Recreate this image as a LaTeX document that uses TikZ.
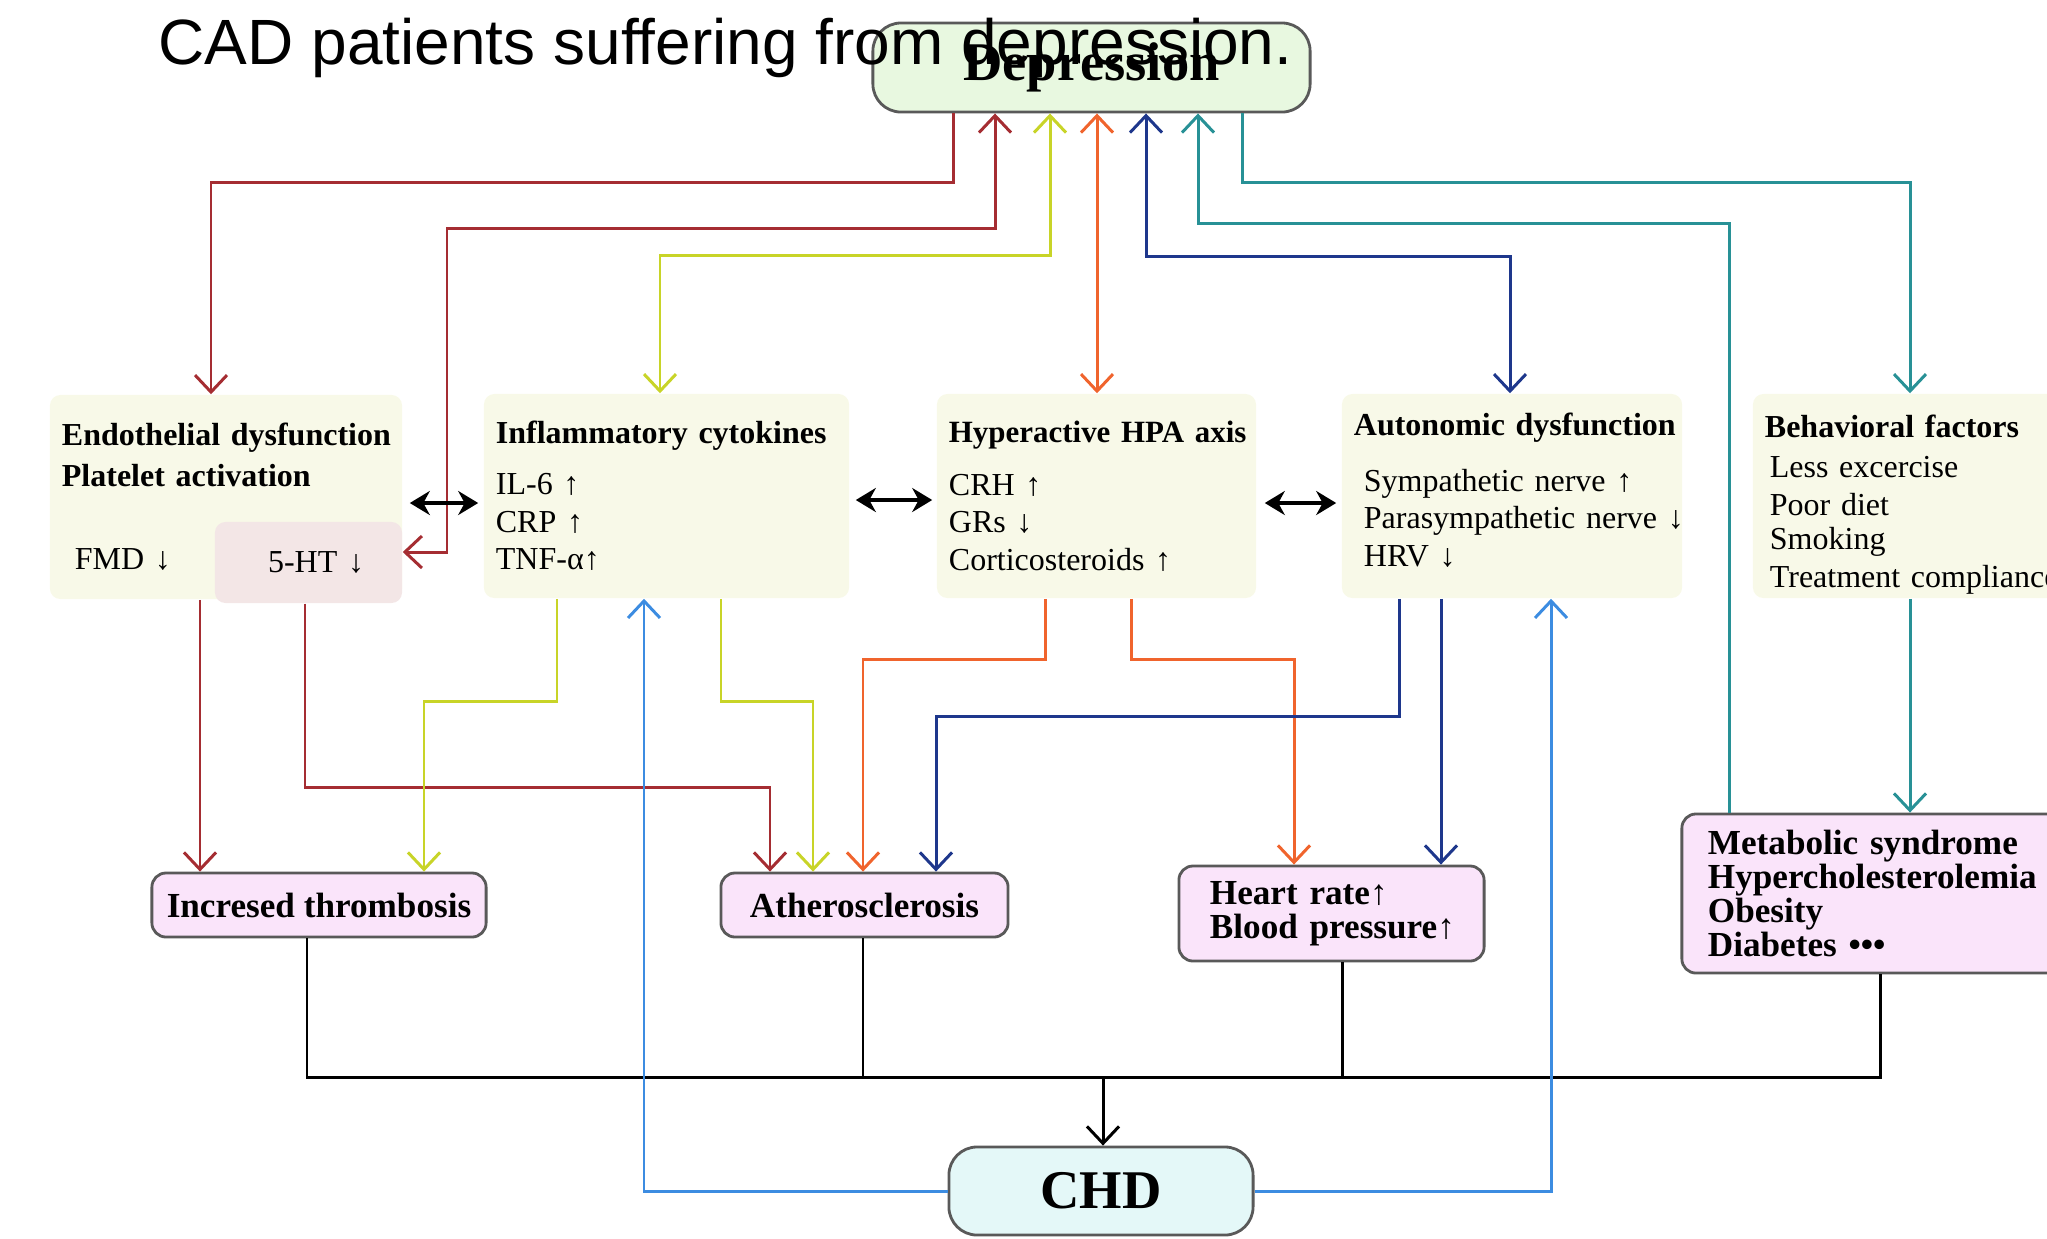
\documentclass[tikz,border=0pt]{standalone}
\usepackage{fontspec}
\setmainfont{Liberation Serif}
\newfontfamily\headfont{Liberation Sans}
\usetikzlibrary{arrows.meta}

\definecolor{dred}{RGB}{165,45,50}
\definecolor{ygreen}{RGB}{200,212,40}
\definecolor{orng}{RGB}{240,100,45}
\definecolor{dblue}{RGB}{30,55,140}
\definecolor{teal2}{RGB}{40,145,150}
\definecolor{lblue}{RGB}{60,140,225}
\definecolor{cream}{RGB}{248,249,232}
\definecolor{rosy}{RGB}{243,230,230}
\definecolor{pinkbox}{RGB}{250,228,250}
\definecolor{greenbox}{RGB}{232,248,224}
\definecolor{cyanbox}{RGB}{228,248,248}

\begin{document}
\begin{tikzpicture}[x=0.01cm,y=-0.01cm,
        >={Straight Barb[length=1.7mm,width=3.2mm]},
        link/.style={line width=0.85pt},
        twoway/.style={line width=0.9pt,{Stealth[length=2mm,width=2.4mm]}-{Stealth[length=2mm,width=2.4mm]}},
        mid/.style={fill=cream,rounded corners=3pt,inner xsep=0.12cm,align=left,
            minimum height=2.04cm,font=\fontsize{9.1}{10.7}\selectfont},
        res/.style={draw=black!65,line width=0.8pt,fill=pinkbox,rounded corners=4pt,
            font=\fontsize{10}{9.6}\selectfont\bfseries},
        bigbox/.style={draw=black!65,line width=0.8pt,rounded corners=8pt,
            font=\fontsize{15.5}{16}\selectfont\bfseries}]
                \useasboundingbox (0,0) rectangle (2047,1238);
                \clip (0,0) rectangle (2047,1238);

                % top and bottom
                \node[bigbox,fill=greenbox,minimum width=4.37cm,minimum height=0.89cm] (dep) at (1091.5,67.5) {\raisebox{-2pt}{Depression}};
                \node[bigbox,fill=cyanbox,minimum width=3.04cm,minimum height=0.88cm] (chd) at (1101,1191) {CHD};

                % middle row
                \node[mid,text width=3.28cm,minimum width=3.52cm] (endo) at (226,497)
                    {\mbox{\textbf{Endothelial dysfunction}}\\[0.8pt]\textbf{Platelet activation}\\[13pt]\hspace*{1.3mm}FMD ↓};
                \node[fill=rosy,rounded corners=3pt,minimum height=0.81cm,inner xsep=0.38cm,text width=1.11cm,
                    align=right,font=\fontsize{9.1}{10.7}\selectfont] (ht) at (308.5,562.5) {5-HT ↓};
                \node[mid,text width=3.41cm] (infl) at (666.5,496)
                    {\mbox{\textbf{Inflammatory cytokines}}\\[3.8pt]IL-6 ↑\\CRP ↑\\TNF-α↑};
                \node[mid,text width=2.95cm] (hpa) at (1096.5,496)
                    {\mbox{\fontsize{8.8}{10.7}\selectfont\textbf{Hyperactive HPA axis}}\\[4.4pt]CRH ↑\\GRs ↓\\Corticosteroids ↑};
                \node[mid,text width=3.16cm,inner xsep=0.12cm] (auto) at (1512,496)
                    {\mbox{\textbf{Autonomic dysfunction}}\\[5pt]\hspace*{1mm}Sympathetic nerve ↑\\\mbox{\hspace*{1mm}Parasympathetic nerve ↓}\\\hspace*{1mm}HRV ↓\rule[-3.5pt]{0pt}{1pt}};
                \node[mid,text width=2.93cm,inner ysep=0pt] (beh) at (1911.5,496)
                    {\rule{0pt}{11.5pt}\mbox{\textbf{Behavioral factors}}\\[0.5pt]\hspace*{0.5mm}Less excercise\\[0.2pt]\hspace*{0.5mm}Poor diet\\[-1pt]\hspace*{0.5mm}Smoking\\[0.2pt]\mbox{\hspace*{0.5mm}Treatment compliance}};

                % lower row
                \node[res,minimum width=3.34cm,minimum height=0.64cm] (thromb) at (319,905) {Incresed thrombosis};
                \node[res,minimum width=2.87cm,minimum height=0.64cm] (ath) at (864.5,905) {Atherosclerosis};
                \node[res,minimum height=0.95cm,inner xsep=0.31cm,text width=2.43cm,align=left] (heart) at (1331.5,913.5)
                    {Heart rate↑\\\mbox{Blood pressure↑}};
                \node[res,minimum height=1.59cm,inner xsep=0.26cm,text width=3.46cm,align=left] (meta) at (1881,893.5)
                    {Metabolic syndrome\\\mbox{Hypercholesterolemia}\\Obesity\\Diabetes •••};

                % links with depression
                \draw[link,dred,->] (953,0 |- dep.south) |- (211,182) -- (211,0 |- endo.north);
                \draw[link,dred,<->] (995,0 |- dep.south) |- (447,228) |- (ht.east |- 0,552);
                \draw[link,ygreen,<->] (1050,0 |- dep.south) |- (660,255) -- (660,0 |- infl.north);
                \draw[link,orng,<->] (1097,0 |- dep.south) -- (1097,0 |- hpa.north);
                \draw[link,dblue,<->] (1146,0 |- dep.south) |- (1510,256) -- (1510,0 |- auto.north);
                \draw[link,teal2,->] (1242,0 |- dep.south) |- (1910,182) -- (1910,0 |- beh.north);
                \draw[link,teal2,->] (1729,0 |- meta.north) |- (1198,223) -- (1198,0 |- dep.south);

                % between mechanisms
                \draw[twoway,shorten <=0.07cm,shorten >=0.05cm] (endo.east |- 0,503) -- (infl.west |- 0,503);
                \draw[twoway,shorten <=0.06cm,shorten >=0.04cm] (infl.east |- 0,500) -- (hpa.west |- 0,500);
                \draw[twoway,shorten <=0.08cm,shorten >=0.05cm] (hpa.east |- 0,503) -- (auto.west |- 0,503);

                % mechanisms to outcomes
                \draw[link,dred,->] (200,0 |- endo.south) -- (200,0 |- thromb.north);
                \draw[link,dred,->] (305,0 |- ht.south) |- (770,787) -- (770,0 |- ath.north);
                \draw[link,ygreen,->] (557,0 |- infl.south) |- (424,701) -- (424,0 |- thromb.north);
                \draw[link,ygreen,->] (721,0 |- infl.south) |- (813,701) -- (813,0 |- ath.north);
                \draw[link,orng,->] (1045,0 |- hpa.south) |- (863,659) -- (863,0 |- ath.north);
                \draw[link,orng,->] (1131,0 |- hpa.south) |- (1294,659) -- (1294,0 |- heart.north);
                \draw[link,dblue,->] (1399,0 |- auto.south) |- (936,716) -- (936,0 |- ath.north);
                \draw[link,dblue,->] (1441,0 |- auto.south) -- (1441,0 |- heart.north);
                \draw[link,teal2,->] (1910,0 |- beh.south) -- (1910,0 |- meta.north);

                % outcomes to CHD
                \coordinate (join) at (1103,1077);
                \draw[link] (307,0 |- thromb.south) |- (1880,1077) -- (1880,0 |- meta.south);
                \draw[link] (863,0 |- ath.south) -- (863,1077);
                \draw[link] (1342,0 |- heart.south) -- (1342,1077);
                \draw[link,->] (join) -- (join |- chd.north);
                \draw[link,lblue,->] (chd.west) -| (644,0 |- infl.south);
                \draw[link,lblue,->] (chd.east) -| (1551,0 |- auto.south);

                \node[anchor=base west,inner sep=0pt,font=\headfont\fontsize{18.2}{20}\selectfont] (title) at (158,64)
                    {CAD patients suffering from depression.};
            \end{tikzpicture}
\end{document}
